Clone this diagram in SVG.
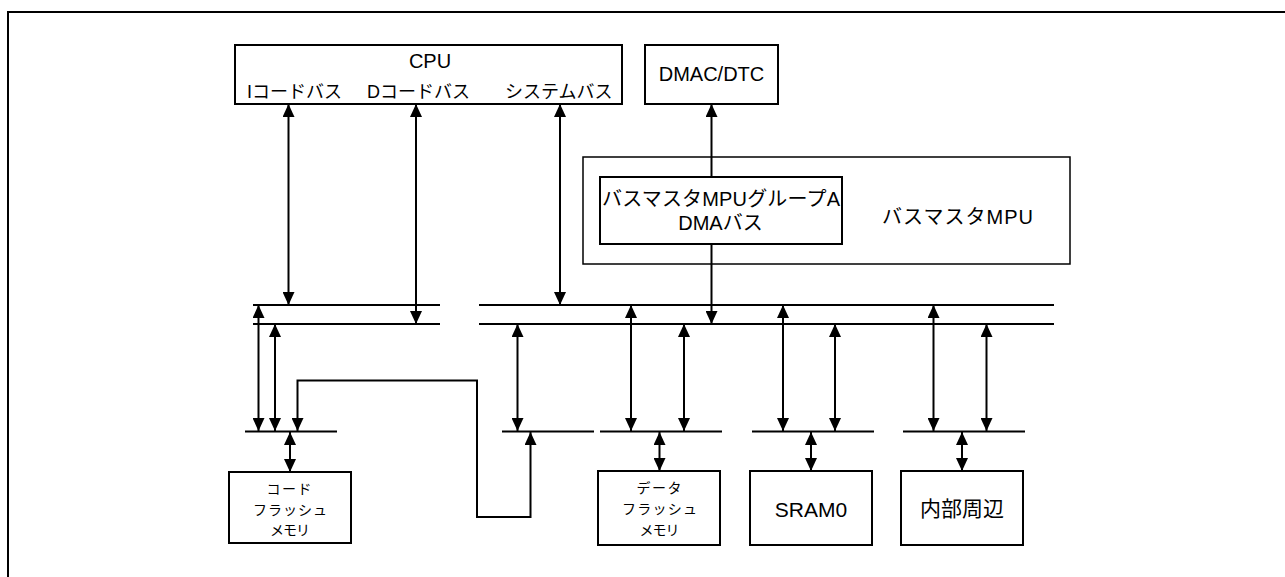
<svg xmlns="http://www.w3.org/2000/svg" width="1285" height="577" viewBox="0 0 1285 577">
<style>
.box{fill:#fff;stroke:#000;stroke-width:2}
.thin{fill:none;stroke:#000;stroke-width:1.5}
.bus{stroke:#000;stroke-width:2;fill:none}
.c{stroke:#000;stroke-width:2;fill:none;marker-start:url(#ah);marker-end:url(#ah)}
.ce{stroke:#000;stroke-width:2;fill:none;marker-end:url(#ah)}
.cs{stroke:#000;stroke-width:2;fill:none;marker-start:url(#ah)}
text{font-family:"Liberation Sans","Noto Sans CJK JP",sans-serif;fill:#000}
.t20{font-size:20px;text-anchor:middle}
.t21{font-size:21px;text-anchor:middle}
.t18{font-size:18px}
.t13{font-size:14px;text-anchor:middle}
</style>
<defs>
<marker id="ah" viewBox="0 0 13 12" refX="13" refY="6" markerWidth="13" markerHeight="12" markerUnits="userSpaceOnUse" orient="auto-start-reverse">
<path d="M0,0 L13,6 L0,12 Z" fill="#000"/>
</marker>
</defs>
<rect width="1285" height="577" fill="#fff"/>
<path d="M8,577 V12 H1285" fill="none" stroke="#000" stroke-width="2"/>

<g id="cpu">
<rect class="box" x="235" y="45" width="387" height="59"/>
<text class="t20" x="430" y="68">CPU</text>
<text class="t18" x="247" y="98">Iコードバス</text>
<text class="t18" x="367" y="98">Dコードバス</text>
<text class="t18" x="505" y="98">システムバス</text>
</g>

<g id="dmac">
<rect class="box" x="645" y="45" width="133" height="59"/>
<text class="t20" x="711.5" y="81">DMAC/DTC</text>
</g>

<g id="mpu">
<rect class="thin" x="583" y="157" width="487" height="107"/>
<text class="t20" x="957.5" y="224" textLength="151" lengthAdjust="spacing">バスマスタMPU</text>
<g id="mpu-groupA">
<rect class="box" x="600" y="177" width="242" height="67"/>
<text class="t20" x="721" y="206" textLength="238" lengthAdjust="spacing">バスマスタMPUグループA</text>
<text class="t20" x="720.5" y="230">DMAバス</text>
</g>
</g>

<g id="codeflash">
<rect class="box" x="229" y="472" width="122" height="71"/>
<text class="t13" x="289" y="494" textLength="45" lengthAdjust="spacing">コード</text>
<text class="t13" x="290" y="515" textLength="74" lengthAdjust="spacing">フラッシュ</text>
<text class="t13" x="290" y="535" textLength="40" lengthAdjust="spacing">メモリ</text>
</g>

<g id="dataflash">
<rect class="box" x="598" y="471" width="122" height="74"/>
<text class="t13" x="659" y="493" textLength="45" lengthAdjust="spacing">データ</text>
<text class="t13" x="659.5" y="514" textLength="75" lengthAdjust="spacing">フラッシュ</text>
<text class="t13" x="659.5" y="535" textLength="40" lengthAdjust="spacing">メモリ</text>
</g>

<g id="sram0">
<rect class="box" x="750" y="471" width="122" height="74"/>
<text class="t21" x="811" y="517">SRAM0</text>
</g>

<g id="periph">
<rect class="box" x="901" y="471" width="122" height="74"/>
<text class="t21" x="962" y="516">内部周辺</text>
</g>

<g id="buses">
<line class="bus" x1="253" y1="305" x2="440" y2="305"/>
<line class="bus" x1="253" y1="324" x2="440" y2="324"/>
<line class="bus" x1="479" y1="305" x2="1054" y2="305"/>
<line class="bus" x1="479" y1="324" x2="1054" y2="324"/>
<line class="bus" x1="245" y1="431.5" x2="337" y2="431.5"/>
<line class="bus" x1="502" y1="431.5" x2="594" y2="431.5"/>
<line class="bus" x1="600" y1="431.5" x2="722" y2="431.5"/>
<line class="bus" x1="752" y1="431.5" x2="874" y2="431.5"/>
<line class="bus" x1="903" y1="431.5" x2="1025" y2="431.5"/>
</g>

<g id="connectors">
<line class="c" x1="288.5" y1="104" x2="288.5" y2="305"/>
<line class="c" x1="416" y1="104" x2="416" y2="324"/>
<line class="c" x1="560" y1="104" x2="560" y2="305"/>
<line class="cs" x1="711.5" y1="104" x2="711.5" y2="177"/>
<line class="ce" x1="711.5" y1="244" x2="711.5" y2="324"/>
<line class="c" x1="258.5" y1="305" x2="258.5" y2="431"/>
<line class="c" x1="275" y1="324" x2="275" y2="431"/>
<path class="c" d="M297.5,431 V380.5 H477 V517 H530.5 V432"/>
<line class="c" x1="290" y1="432" x2="290" y2="472"/>
<line class="c" x1="517.5" y1="324" x2="517.5" y2="431"/>
<line class="c" x1="631" y1="305" x2="631" y2="431"/>
<line class="c" x1="684" y1="324" x2="684" y2="431"/>
<line class="c" x1="659.5" y1="432" x2="659.5" y2="471"/>
<line class="c" x1="783" y1="305" x2="783" y2="431"/>
<line class="c" x1="835" y1="324" x2="835" y2="431"/>
<line class="c" x1="811" y1="432" x2="811" y2="471"/>
<line class="c" x1="933.5" y1="305" x2="933.5" y2="431"/>
<line class="c" x1="986.5" y1="324" x2="986.5" y2="431"/>
<line class="c" x1="962" y1="432" x2="962" y2="471"/>
</g>
</svg>
